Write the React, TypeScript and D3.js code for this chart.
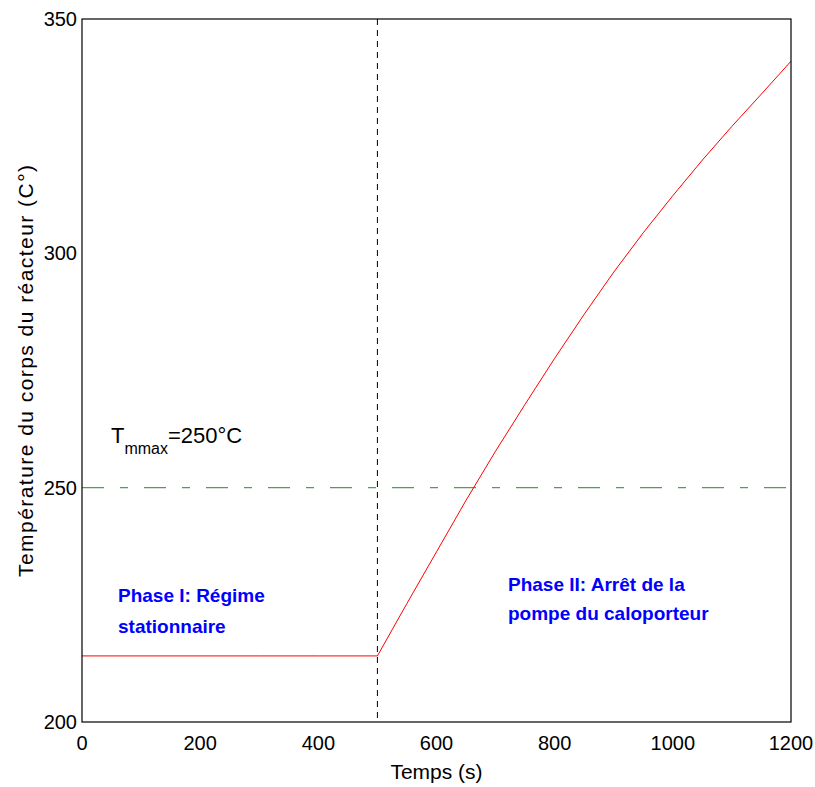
import React from "react";
import * as d3 from "d3";

const timeValues = [0, 100, 200, 300, 400, 500, 550, 600, 650, 700, 750, 800, 850, 900, 950, 1000, 1050, 1100, 1150, 1200];
const tempValues = [214.1, 214.1, 214.1, 214.1, 214.1, 214.1, 225.3, 236.3, 247.3, 257.8, 267.8, 277.6, 287.0, 296.0, 304.4, 312.3, 319.9, 327.1, 334.0, 341.0];
const xTicks = [0, 200, 400, 600, 800, 1000, 1200];
const yTicks = [200, 250, 300, 350];
const tMax = 250;
const phaseChangeTime = 500;

const W = 815;
const H = 787;
const M = { left: 82, right: 791, top: 19, bottom: 722 };
const FONT = "'Liberation Sans', Arial, sans-serif";

export default function App() {
  const x = d3.scaleLinear().domain([0, 1200]).range([M.left, M.right]);
  const y = d3.scaleLinear().domain([200, 350]).range([M.bottom, M.top]);
  const pts = timeValues.map((t, i) => [t, tempValues[i]] as [number, number]);
  const line = d3.line<[number, number]>().x((d) => x(d[0])).y((d) => y(d[1]))(pts) || "";

  return (
    <svg width={W} height={H} style={{ position: "absolute", left: 0, top: 0, background: "#fff" }} fontFamily={FONT}>
      <rect x={0} y={0} width={W} height={H} fill="#fff" />
      <line x1={x(0)} x2={x(1200)} y1={y(tMax)} y2={y(tMax)} stroke="#4f9f4f" strokeWidth={1.2} strokeDasharray="22,16,8,16" />
      <line x1={x(phaseChangeTime)} x2={x(phaseChangeTime)} y1={y(350)} y2={y(200)} stroke="#000" strokeWidth={1} strokeDasharray="6,5" />
      <path d={line} fill="none" stroke="#ff0000" strokeWidth={1} />
      <rect x={M.left} y={M.top} width={M.right - M.left} height={M.bottom - M.top} fill="none" stroke="#000" strokeWidth={1.2} />
      {xTicks.map((t) => (
        <text key={"x" + t} x={x(t)} y={750} fontSize={20} textAnchor="middle" fill="#000">{t}</text>
      ))}
      {yTicks.map((t) => (
        <text key={"y" + t} x={77} y={y(t) + 7} fontSize={20} textAnchor="end" fill="#000">{t}</text>
      ))}
      <text x={(M.left + M.right) / 2} y={779} fontSize={21} textAnchor="middle" fill="#000">Temps (s)</text>
      <text transform={`translate(33, 371) rotate(-90)`} fontSize={21} textAnchor="middle" fill="#000" textLength={412} lengthAdjust="spacing">
        Température du corps du réacteur (C°)
      </text>
      <text x={111} y={443} fontSize={22} fill="#000">
        T<tspan fontSize={16} dy={11}>mmax</tspan><tspan dy={-11}>=250°C</tspan>
      </text>
      <g fill="#0000ff" fontWeight="bold" fontSize={19}>
        <text x={118} y={602}>Phase I: Régime</text>
        <text x={118} y={633}>stationnaire</text>
        <text x={508} y={591}>Phase II: Arrêt de la</text>
        <text x={508} y={620}>pompe du caloporteur</text>
      </g>
    </svg>
  );
}
